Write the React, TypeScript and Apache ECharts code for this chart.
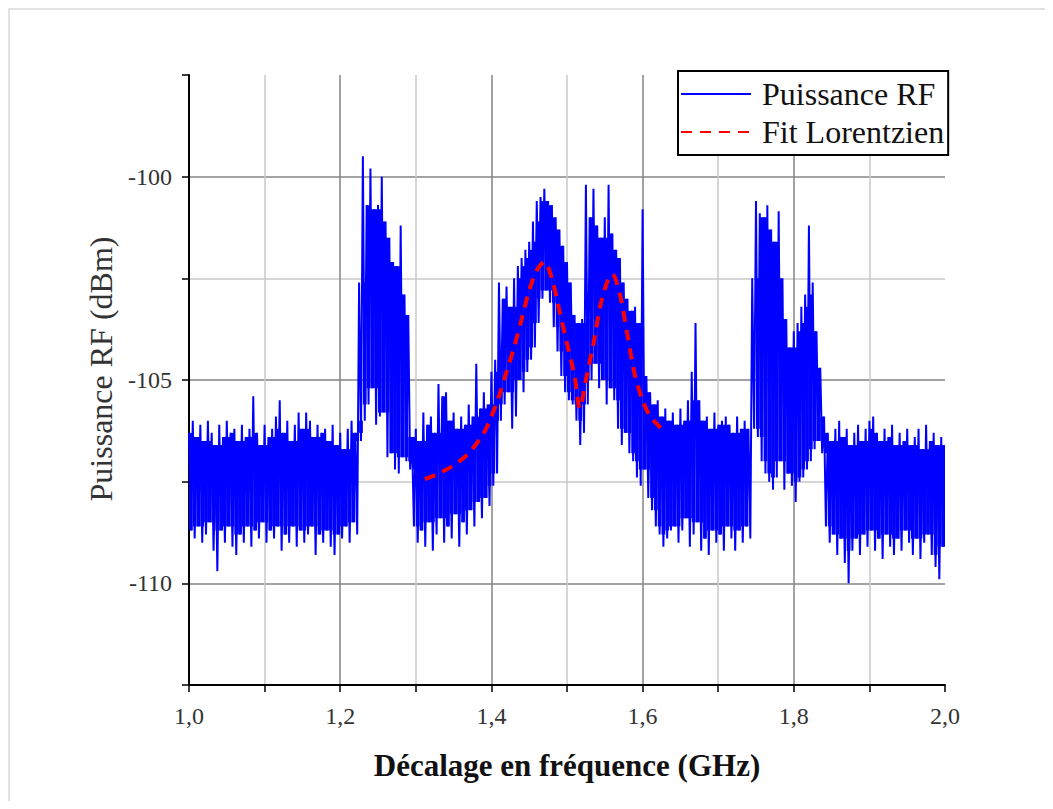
import { useEffect, useRef } from "react";
import * as echarts from "echarts";

// Frequency sampling of the RF trace (GHz)
const FREQ_START = 1.0;
const FREQ_STEP = 0.005;

// Upper excursion of the RF power in each frequency bin (dBm)
const rfHigh = [
  // 1.000 - 1.045
  -106.3, -106.0, -106.4, -106.1, -106.5, -106.0, -106.3, -106.6, -106.1, -106.4,
  // 1.050 - 1.095
  -106.0, -106.3, -106.2, -106.5, -106.1, -106.4, -106.2, -105.4, -106.3, -106.6,
  // 1.100 - 1.145
  -106.1, -106.4, -106.2, -105.9, -105.5, -106.3, -106.0, -106.5, -106.1, -105.8,
  // 1.150 - 1.195
  -106.2, -105.8, -106.0, -106.4, -106.1, -106.3, -106.2, -106.5, -106.1, -106.6,
  // 1.200 - 1.220
  -106.3, -106.7, -106.2, -106.0, -106.3,
  // 1.225 - 1.290 (first side peak)
  -102.6, -99.5, -100.7, -99.8, -100.8, -100.7, -100.0, -101.1, -101.5, -102.1,
  -102.2, -101.2, -102.9, -103.4,
  // 1.295 - 1.395
  -106.4, -106.2, -106.5, -105.8, -106.1, -105.9, -106.3, -105.1, -105.4, -105.3,
  -106.0, -105.8, -106.2, -105.9, -106.1, -105.6, -105.9, -104.6, -105.7, -105.3,
  -105.6,
  // 1.400 - 1.635 (central double peak)
  -104.8, -104.5, -102.6, -103.0, -102.7, -103.2, -102.5, -102.2, -102.0, -101.8,
  -101.6, -101.1, -100.6, -100.5, -100.3, -100.6, -100.7, -101.0, -101.3, -101.7,
  -102.1, -102.6, -103.4, -103.6, -103.5, -100.2, -101.0, -100.3, -101.2, -101.5,
  -101.0, -100.2, -101.4, -101.8, -102.0, -102.6, -103.0, -103.3, -103.2, -103.6,
  -100.8, -104.9, -105.3, -105.6, -105.5, -105.9, -105.7, -106.0,
  // 1.640 - 1.740
  -105.8, -106.1, -105.7, -106.0, -105.5, -104.8, -103.6, -105.5, -106.0, -105.9,
  -106.2, -105.8, -106.1, -106.0, -105.9, -106.1, -106.3, -105.9, -106.2, -106.0,
  -106.2,
  // 1.745 - 1.835 (second side peak)
  -102.5, -100.6, -100.9, -101.0, -100.7, -101.3, -101.6, -100.85, -102.5, -103.5,
  -104.2, -103.8, -103.6, -103.2, -102.9, -101.2, -102.6, -103.8, -104.7,
  // 1.840 - 1.995
  -105.9, -106.3, -106.5, -106.2, -106.0, -106.4, -106.2, -106.6, -106.3, -106.1,
  -106.5, -106.2, -106.0, -105.9, -106.3, -106.5, -106.2, -106.4, -106.1, -106.6,
  -106.3, -106.5, -106.2, -106.6, -106.4, -106.2, -106.7, -106.1, -106.5, -106.3,
  -106.6, -106.4,
];

// Lower excursion of the RF power in each frequency bin (dBm)
const rfLow = [
  // 1.000 - 1.045
  -108.7, -108.9, -108.6, -109.0, -108.8, -108.5, -109.2, -109.7, -108.7, -109.0,
  // 1.050 - 1.095
  -108.6, -109.1, -109.3, -108.8, -109.0, -108.6, -109.1, -108.7, -108.9, -108.5,
  // 1.100 - 1.145
  -109.0, -108.7, -108.9, -108.6, -109.2, -108.8, -109.0, -108.6, -109.1, -108.7,
  // 1.150 - 1.195
  -109.0, -108.8, -108.6, -109.3, -108.8, -109.0, -108.7, -109.1, -109.3, -108.8,
  // 1.200 - 1.220
  -108.9, -108.6, -109.0, -108.5, -108.8,
  // 1.225 - 1.290
  -106.5, -106.0, -105.6, -105.2, -106.1, -105.9, -105.8, -106.9, -106.8, -107.2,
  -107.3, -106.9, -107.0, -107.2,
  // 1.295 - 1.395
  -108.6, -109.0, -108.7, -109.1, -108.5, -109.2, -108.8, -108.4, -109.0, -108.6,
  -108.9, -108.3, -109.1, -108.5, -108.8, -108.2, -108.6, -108.0, -108.4, -107.9,
  -108.1,
  // 1.400 - 1.635
  -107.6, -107.3, -106.0, -105.6, -105.3, -106.2, -105.9, -105.0, -105.3, -104.8,
  -104.5, -104.2, -103.6, -103.0, -102.8, -103.1, -103.7, -104.3, -104.9, -105.3,
  -105.5, -105.6, -106.0, -106.6, -106.3, -105.6, -105.0, -104.6, -105.2, -105.0,
  -105.6, -105.2, -105.5, -106.2, -106.6, -106.3, -106.8, -107.0, -107.4, -107.6,
  -107.2, -107.9, -108.2, -108.6, -108.8, -109.1, -108.9, -108.7,
  // 1.640 - 1.740
  -108.6, -109.0, -108.7, -108.4, -109.1, -108.8, -108.5, -109.2, -108.9, -109.3,
  -108.7, -109.0, -108.8, -109.2, -108.6, -108.9, -109.2, -108.7, -109.0, -108.6,
  -108.9,
  // 1.745 - 1.835
  -106.2, -106.4, -107.0, -107.3, -107.5, -107.7, -107.4, -107.0, -107.7, -107.3,
  -107.6, -108.0, -107.5, -107.4, -107.2, -107.0, -106.7, -106.5, -106.8,
  // 1.840 - 1.995
  -108.6, -109.0, -108.8, -109.3, -108.9, -109.5, -110.0, -109.2, -108.9, -109.3,
  -108.8, -109.1, -108.7, -109.2, -108.9, -109.4, -108.8, -109.1, -109.3, -108.9,
  -109.2, -108.7, -109.0, -109.3, -108.9, -109.4, -109.0, -108.8, -109.3, -109.6,
  -109.9, -109.1,
];

// Lorentzian fit (GHz, dBm)
const fitFreq = [
  1.312, 1.33, 1.35, 1.37, 1.39, 1.4, 1.41, 1.42, 1.43, 1.44, 1.45, 1.46, 1.47,
  1.48, 1.49, 1.5, 1.51, 1.517, 1.525, 1.535, 1.545, 1.555, 1.56, 1.57, 1.58,
  1.59, 1.6, 1.61, 1.62, 1.63,
];
const fitPower = [
  -107.44, -107.3, -107.1, -106.8, -106.3, -105.9, -105.4, -104.8, -104.2, -103.5,
  -102.8, -102.3, -102.1, -102.5, -103.3, -104.1, -104.9, -105.7, -105.0, -104.1,
  -103.1, -102.5, -102.4, -102.9, -103.9, -104.9, -105.5, -105.9, -106.1, -106.3,
];

const xTickLabels = ["1,0", "1,2", "1,4", "1,6", "1,8", "2,0"];
const yTickValues = [-110, -105, -100];

const SERIF = "'Liberation Serif', 'Times New Roman', serif";
const BLUE = "#0000ff";

export default function App() {
  const ref = useRef<HTMLDivElement>(null);

  useEffect(() => {
    if (!ref.current) return;
    const chart = echarts.init(ref.current, null, { renderer: "svg" });

    // Zig-zag trace through the upper / lower excursions of each bin
    const rfData: number[][] = [];
    // Dense core of the trace: the envelope shared with neighbouring bins
    const coreData: number[][] = [];
    rfHigh.forEach((h, i) => {
      const f = FREQ_START + i * FREQ_STEP;
      rfData.push([f, h]);
      rfData.push([f + FREQ_STEP / 2, rfLow[i]]);
      const hs = [rfHigh[i - 1], h, rfHigh[i + 1]].filter((v) => v !== undefined);
      const ls = [rfLow[i - 1], rfLow[i], rfLow[i + 1]].filter((v) => v !== undefined);
      coreData.push([f, Math.max(...ls), Math.min(...hs)]);
    });
    const fitData = fitFreq.map((f, i) => [f, fitPower[i]]);

    chart.setOption({
      animation: false,
      backgroundColor: "#ffffff",
      graphic: [
        { type: "line", shape: { x1: 0, y1: 1, x2: 1037, y2: 1 }, style: { stroke: "#e2e2e2", lineWidth: 2 } },
        { type: "line", shape: { x1: 1, y1: 0, x2: 1, y2: 793 }, style: { stroke: "#e2e2e2", lineWidth: 2 } },
      ],
      grid: { left: 181, top: 67, right: 100, bottom: 116 },
      legend: {
        orient: "vertical",
        left: 670,
        top: 63,
        itemWidth: 70,
        itemHeight: 14,
        itemGap: 4,
        padding: [6, 4, 6, 2],
        borderColor: "#000",
        borderWidth: 2,
        backgroundColor: "#fff",
        itemStyle: { opacity: 0 },
        textStyle: {
          fontFamily: SERIF,
          fontSize: 32,
          color: "#111",
          lineHeight: 34,
          padding: [0, 0, 0, 6],
        },
        data: ["Puissance RF", "Fit Lorentzien"],
      },
      xAxis: {
        type: "value",
        min: 1,
        max: 2,
        interval: 0.1,
        name: "Décalage en fréquence (GHz)",
        nameLocation: "middle",
        nameGap: 65,
        nameTextStyle: { fontFamily: SERIF, fontSize: 31, fontWeight: "bold", color: "#111" },
        axisLine: { show: true, onZero: false, lineStyle: { color: "#000", width: 2 } },
        axisTick: { show: true, inside: false, length: 7, lineStyle: { color: "#000", width: 1.5 } },
        axisLabel: {
          margin: 19,
          fontFamily: SERIF,
          fontSize: 24,
          color: "#333",
          showMinLabel: true,
          showMaxLabel: true,
          formatter: (v: number) => {
            const k = (v - 1) * 5;
            const idx = Math.round(k);
            return Math.abs(k - idx) < 1e-6 ? xTickLabels[idx] ?? "" : "";
          },
        },
        splitLine: {
          show: true,
          showMaxLine: false,
          lineStyle: { color: ["#858585", "#c8c8c8"], width: 1.5 },
        },
      },
      yAxis: {
        type: "value",
        min: -112.5,
        max: -97.5,
        interval: 2.5,
        name: "Puissance RF (dBm)",
        nameLocation: "middle",
        nameGap: 72,
        nameTextStyle: { fontFamily: SERIF, fontSize: 32, color: "#333", padding: [0, 0, 0, 22] },
        axisLine: { show: true, onZero: false, lineStyle: { color: "#000", width: 2 } },
        axisTick: { show: true, inside: false, length: 7, lineStyle: { color: "#000", width: 1.5 } },
        axisLabel: {
          margin: 17,
          fontFamily: SERIF,
          fontSize: 24,
          color: "#333",
          formatter: (v: number) => {
            const hit = yTickValues.find((t) => Math.abs(t - v) < 1e-6);
            return hit === undefined ? "" : String(hit);
          },
        },
        splitLine: {
          show: true,
          showMaxLine: false,
          lineStyle: { color: ["#c8c8c8", "#858585"], width: 1.5 },
        },
      },
      series: [
        {
          name: "core",
          type: "custom",
          data: coreData,
          encode: { x: 0, y: [1, 2] },
          clip: true,
          silent: true,
          z: 1,
          renderItem: (_params: any, api: any) => {
            const f = api.value(0);
            const p1 = api.coord([f, api.value(2)]);
            const p2 = api.coord([f + FREQ_STEP, api.value(1)]);
            return {
              type: "rect",
              shape: { x: p1[0], y: p1[1], width: p2[0] - p1[0], height: p2[1] - p1[1] },
              style: { fill: BLUE },
            };
          },
        },
        {
          name: "Puissance RF",
          type: "line",
          data: rfData,
          symbol: "none",
          lineStyle: { color: BLUE, width: 2 },
          itemStyle: { color: BLUE },
          z: 2,
        },
        {
          name: "Fit Lorentzien",
          type: "line",
          data: fitData,
          symbol: "none",
          smooth: 0.3,
          lineStyle: { color: "#ff0000", width: 4, type: [11, 8] },
          itemStyle: { color: "#ff0000" },
          z: 3,
        },
      ],
    });

    return () => chart.dispose();
  }, []);

  return <div ref={ref} style={{ width: 1037, height: 793 }} />;
}
